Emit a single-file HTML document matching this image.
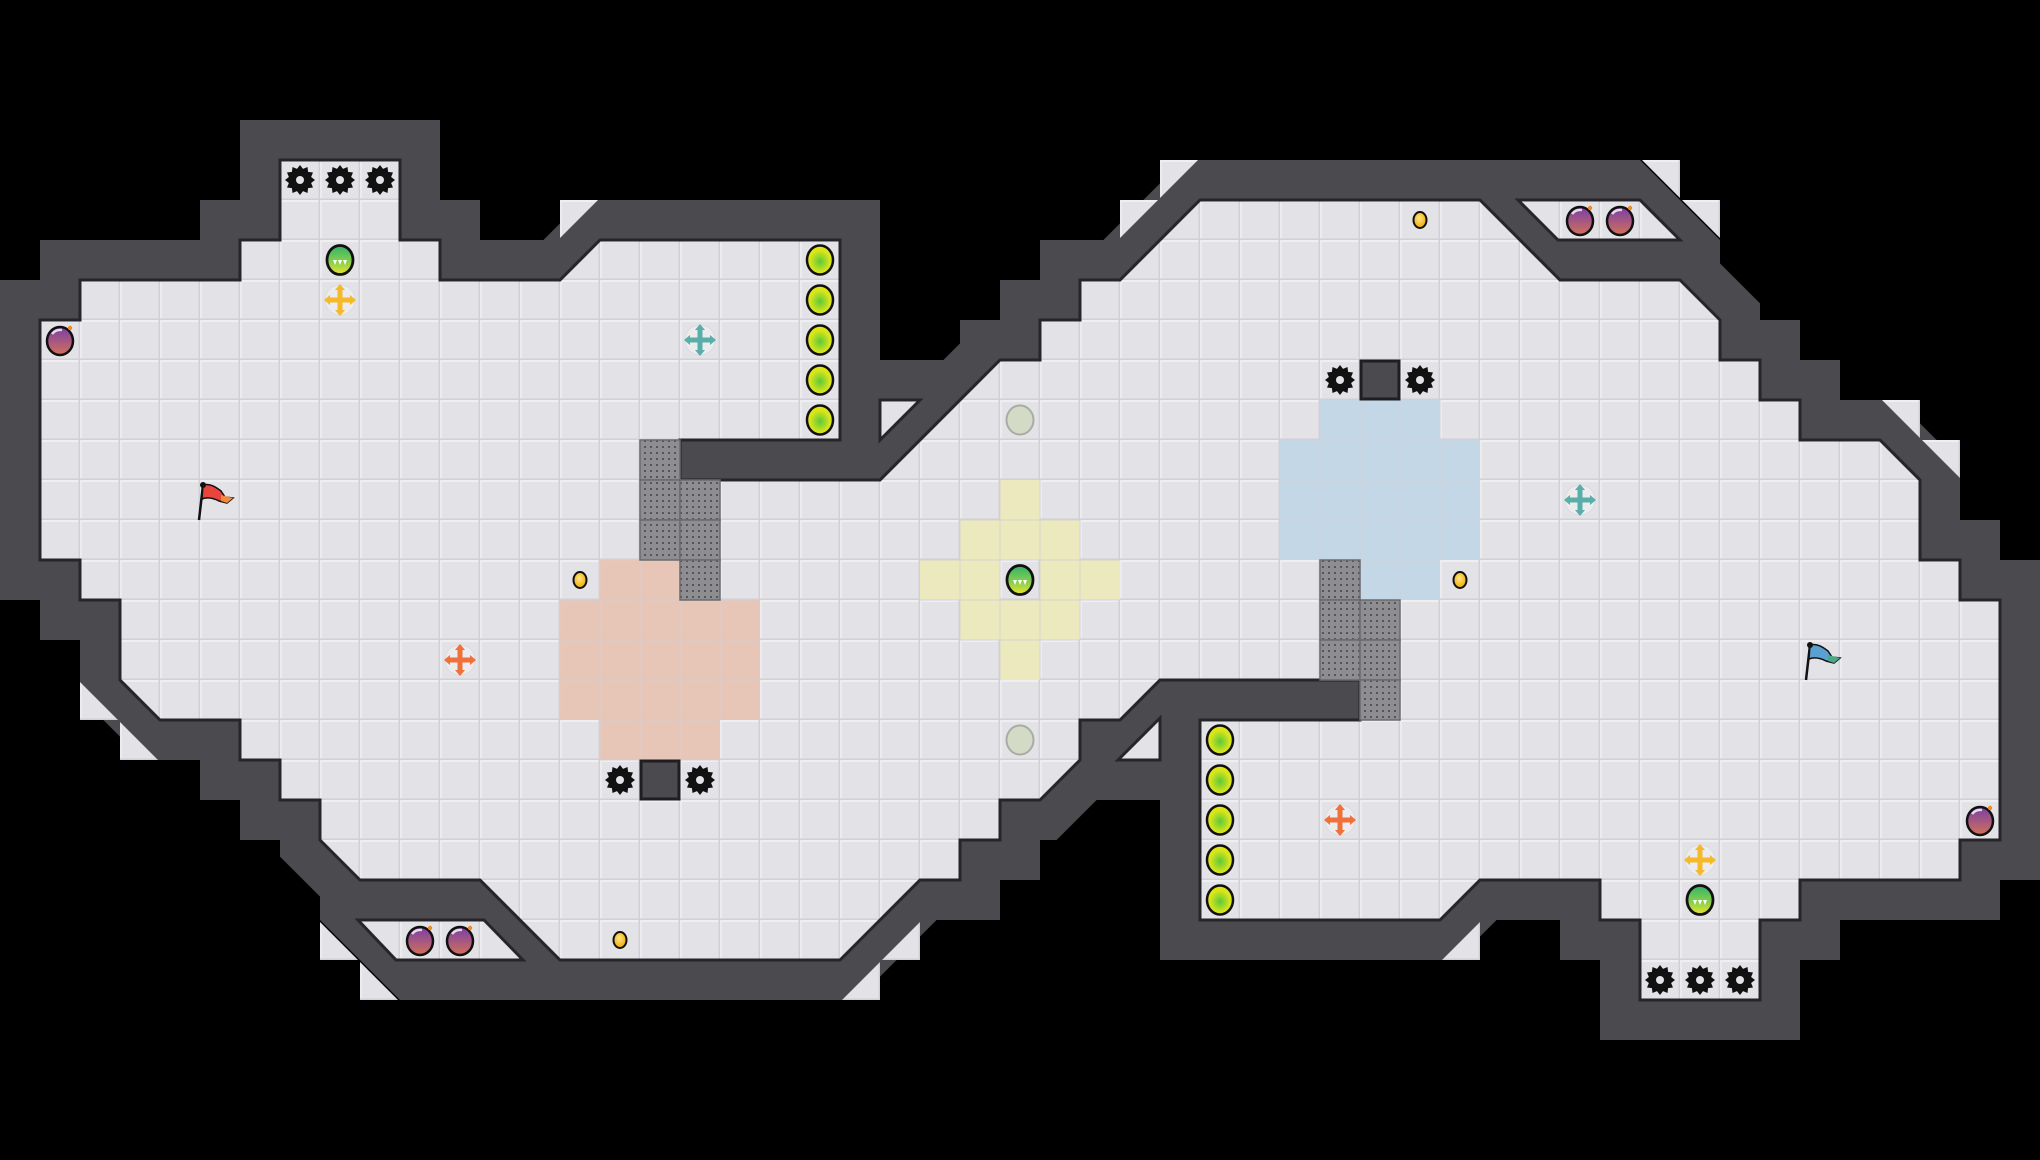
<!DOCTYPE html>
<html><head><meta charset="utf-8"><style>
html,body{margin:0;padding:0;background:#000;}
svg{display:block;}
</style></head><body>
<svg width="2040" height="1160" viewBox="0 0 2040 1160" xmlns="http://www.w3.org/2000/svg">
<defs>
<pattern id="tile" width="40" height="40" patternUnits="userSpaceOnUse">
<rect width="40" height="40" fill="#e3e3e7"/>
<rect x="0" y="0" width="40" height="2" fill="#efeff2"/>
<rect x="0" y="0" width="2" height="40" fill="#ececef"/>
<rect x="38.5" y="0" width="1.5" height="40" fill="#d0d0d5"/>
<rect x="0" y="38.5" width="40" height="1.5" fill="#d0d0d5"/>
</pattern>
<pattern id="grate" width="6" height="6" patternUnits="userSpaceOnUse">
<rect width="6" height="6" fill="#8e8e92"/>
<rect x="2" y="2" width="2" height="2" fill="#55555a"/>
</pattern>
<radialGradient id="yc" cx="50%" cy="55%" r="55%"><stop offset="0" stop-color="#5cc83a"/><stop offset="0.7" stop-color="#d8e61a"/><stop offset="1" stop-color="#e8ea10"/></radialGradient>
<linearGradient id="orb" x1="0" y1="0" x2="0" y2="1"><stop offset="0" stop-color="#2fb36a"/><stop offset="0.6" stop-color="#8fd04a"/><stop offset="1" stop-color="#e8e62a"/></linearGradient>
<linearGradient id="bomb" x1="0" y1="0" x2="0" y2="1"><stop offset="0" stop-color="#7a3fa6"/><stop offset="1" stop-color="#d2705a"/></linearGradient>
<radialGradient id="coin" cx="45%" cy="40%" r="60%"><stop offset="0" stop-color="#ffe680"/><stop offset="1" stop-color="#f0a800"/></radialGradient>
<symbol id="gear" viewBox="-16 -16 32 32">
<polygon fill="#111" points="15,0 11.1,3 13,7.5 8.1,8.1 7.5,13 3,11.1 0,15 -3,11.1 -7.5,13 -8.1,8.1 -13,7.5 -11.1,3 -15,0 -11.1,-3 -13,-7.5 -8.1,-8.1 -7.5,-13 -3,-11.1 0,-15 3,-11.1 7.5,-13 8.1,-8.1 13,-7.5 11.1,-3"/>
<circle r="10.5" fill="#111"/><circle r="4" fill="#e3e3e7"/>
</symbol>
<symbol id="ycirc" viewBox="-20 -20 40 40"><ellipse rx="13" ry="14.5" fill="url(#yc)" stroke="#111" stroke-width="2.5"/></symbol>
<symbol id="gorb" viewBox="-20 -20 40 40"><ellipse rx="13" ry="14.5" fill="url(#orb)" stroke="#111" stroke-width="2.8"/><polygon points="-7,0 -3,0 -5,5" fill="#fff"/><polygon points="-2,0 2,0 0,5" fill="#fff"/><polygon points="3,0 7,0 5,5" fill="#fff"/></symbol>
<symbol id="bombs" viewBox="-20 -20 40 40"><ellipse cx="0" cy="1" rx="13" ry="14" fill="url(#bomb)" stroke="#111" stroke-width="2.5"/><path d="M-8,-6 Q-4,-11 2,-10" stroke="#fff" stroke-width="2.5" fill="none" opacity="0.8"/><circle cx="10" cy="-12" r="2.2" fill="#f08a20"/></symbol>
<symbol id="coins" viewBox="-20 -20 40 40"><ellipse rx="6.5" ry="8" fill="url(#coin)" stroke="#111" stroke-width="2"/></symbol>
<symbol id="gray" viewBox="-20 -20 40 40"><ellipse rx="13.5" ry="14.5" fill="#d3dbc6" stroke="#a8aca4" stroke-width="2"/></symbol>
</defs>

<rect width="2040" height="1160" fill="#000"/>

<g fill="#4a4a4f">
<polygon points="1480,160 1640,160 1720,240 1720,320 1680,280 1560,280 1480,200"/>
<polygon points="320,880 480,880 560,960 560,1000 400,1000 320,920"/>
<polygon points="840,360 1000,360 880,480 840,480"/>
<rect x="960" y="320" width="40" height="40"/>
<rect x="1040" y="720" width="160" height="80"/>
</g>

<path d="M280,160 L400,160 L400,240 L440,240 L440,280 L560,280 L600,240 L840,240 L840,440 L680,440 L680,480 L880,480 L1000,360 L1040,360 L1040,320 L1080,320 L1080,280 L1120,280 L1200,200 L1480,200 L1560,280 L1680,280 L1720,320 L1720,360 L1760,360 L1760,400 L1800,400 L1800,440 L1880,440 L1920,480 L1920,560 L1960,560 L1960,600 L2000,600 L2000,840 L1960,840 L1960,880 L1800,880 L1800,920 L1760,920 L1760,1000 L1640,1000 L1640,920 L1600,920 L1600,880 L1480,880 L1440,920 L1200,920 L1200,720 L1360,720 L1360,680 L1160,680 L1120,720 L1080,720 L1080,760 L1040,800 L1000,800 L1000,840 L960,840 L960,880 L920,880 L880,920 L840,960 L560,960 L480,880 L360,880 L320,840 L320,800 L280,800 L280,760 L240,760 L240,720 L160,720 L120,680 L120,600 L80,600 L80,560 L40,560 L40,320 L80,320 L80,280 L240,280 L240,240 L280,240 Z" fill="none" stroke="#4a4a4f" stroke-width="80" stroke-linejoin="miter" stroke-miterlimit="3"/>

<!-- light triangles outside diagonals -->
<g fill="url(#tile)">
<polygon points="560,200 598,200 560,238"/>
<polygon points="1160,160 1198,160 1160,198"/>
<polygon points="1120,200 1158,200 1120,238"/>
<polygon points="1642,160 1680,160 1680,198"/>
<polygon points="1682,200 1720,200 1720,238"/>
<polygon points="1882,400 1920,400 1920,438"/>
<polygon points="1922,440 1960,440 1960,478"/>
<polygon points="80,682 80,720 118,720"/>
<polygon points="120,722 120,760 158,760"/>
<polygon points="320,922 320,960 358,960"/>
<polygon points="360,962 360,1000 398,1000"/>
<polygon points="1480,922 1480,960 1442,960"/>
<polygon points="880,962 880,1000 842,1000"/>
<polygon points="920,922 920,960 882,960"/>
</g>

<path d="M280,160 L400,160 L400,240 L440,240 L440,280 L560,280 L600,240 L840,240 L840,440 L680,440 L680,480 L880,480 L1000,360 L1040,360 L1040,320 L1080,320 L1080,280 L1120,280 L1200,200 L1480,200 L1560,280 L1680,280 L1720,320 L1720,360 L1760,360 L1760,400 L1800,400 L1800,440 L1880,440 L1920,480 L1920,560 L1960,560 L1960,600 L2000,600 L2000,840 L1960,840 L1960,880 L1800,880 L1800,920 L1760,920 L1760,1000 L1640,1000 L1640,920 L1600,920 L1600,880 L1480,880 L1440,920 L1200,920 L1200,720 L1360,720 L1360,680 L1160,680 L1120,720 L1080,720 L1080,760 L1040,800 L1000,800 L1000,840 L960,840 L960,880 L920,880 L880,920 L840,960 L560,960 L480,880 L360,880 L320,840 L320,800 L280,800 L280,760 L240,760 L240,720 L160,720 L120,680 L120,600 L80,600 L80,560 L40,560 L40,320 L80,320 L80,280 L240,280 L240,240 L280,240 Z" fill="url(#tile)" stroke="#26262a" stroke-width="3"/>

<polygon points="1518,200 1640,200 1680,240 1558,240" fill="url(#tile)" stroke="#26262a" stroke-width="3"/>
<polygon points="358,920 484,920 523,960 396,960" fill="url(#tile)" stroke="#26262a" stroke-width="3"/>
<polygon points="880,400 920,400 880,440" fill="url(#tile)" stroke="#26262a" stroke-width="3"/>
<polygon points="1160,718 1160,760 1118,760" fill="url(#tile)" stroke="#26262a" stroke-width="3"/>

<g fill="#e8c5b6" opacity="0.95">
<rect x="600" y="560" width="80" height="40"/>
<rect x="560" y="600" width="200" height="120"/>
<rect x="600" y="720" width="120" height="40"/>
</g>
<g fill="#ebe9bd">
<rect x="1000" y="480" width="40" height="40"/>
<rect x="960" y="520" width="120" height="40"/>
<rect x="920" y="560" width="80" height="40"/>
<rect x="1040" y="560" width="80" height="40"/>
<rect x="960" y="600" width="120" height="40"/>
<rect x="1000" y="640" width="40" height="40"/>
</g>
<g fill="#c3d7e6">
<rect x="1320" y="400" width="120" height="40"/>
<rect x="1280" y="440" width="200" height="120"/>
<rect x="1360" y="560" width="80" height="40"/>
</g>
<g stroke="#d0d0d5" stroke-width="1.2" opacity="0.6">
<path d="M560,600 H760 M560,640 H760 M560,680 H760 M600,720 H720 M600,760 H720 M600,600 V760 M640,560 V760 M680,560 V760 M720,600 V720"/>
<path d="M960,520 H1080 M920,560 H1120 M920,600 H1120 M960,640 H1080 M1000,480 V680 M1040,480 V680 M960,520 V640 M1080,520 V640"/>
<path d="M1280,440 H1480 M1280,480 H1480 M1280,520 H1480 M1360,560 H1440 M1320,400 V560 M1360,400 V600 M1400,400 V600 M1440,400 V560"/>
</g>

<g fill="url(#grate)" stroke="#6a6a6e" stroke-width="1.5">
<rect x="640" y="440" width="40" height="40"/>
<rect x="640" y="480" width="40" height="40"/><rect x="680" y="480" width="40" height="40"/>
<rect x="640" y="520" width="40" height="40"/><rect x="680" y="520" width="40" height="40"/>
<rect x="680" y="560" width="40" height="40"/>
<rect x="1320" y="560" width="40" height="40"/>
<rect x="1320" y="600" width="40" height="40"/><rect x="1360" y="600" width="40" height="40"/>
<rect x="1320" y="640" width="40" height="40"/><rect x="1360" y="640" width="40" height="40"/>
<rect x="1360" y="680" width="40" height="40"/>
</g>

<rect x="641" y="761" width="38" height="38" fill="#4a4a4f" stroke="#1e1e22" stroke-width="3"/>
<rect x="1361" y="361" width="38" height="38" fill="#4a4a4f" stroke="#1e1e22" stroke-width="3"/>

<g>
<use href="#gear" x="284" y="164" width="32" height="32"/>
<use href="#gear" x="324" y="164" width="32" height="32"/>
<use href="#gear" x="364" y="164" width="32" height="32"/>
<use href="#gear" x="604" y="764" width="32" height="32"/>
<use href="#gear" x="684" y="764" width="32" height="32"/>
<use href="#gear" x="1324" y="364" width="32" height="32"/>
<use href="#gear" x="1404" y="364" width="32" height="32"/>
<use href="#gear" x="1644" y="964" width="32" height="32"/>
<use href="#gear" x="1684" y="964" width="32" height="32"/>
<use href="#gear" x="1724" y="964" width="32" height="32"/>
</g>

<g>
<use href="#ycirc" x="800" y="240" width="40" height="40"/>
<use href="#ycirc" x="800" y="280" width="40" height="40"/>
<use href="#ycirc" x="800" y="320" width="40" height="40"/>
<use href="#ycirc" x="800" y="360" width="40" height="40"/>
<use href="#ycirc" x="800" y="400" width="40" height="40"/>
<use href="#ycirc" x="1200" y="720" width="40" height="40"/>
<use href="#ycirc" x="1200" y="760" width="40" height="40"/>
<use href="#ycirc" x="1200" y="800" width="40" height="40"/>
<use href="#ycirc" x="1200" y="840" width="40" height="40"/>
<use href="#ycirc" x="1200" y="880" width="40" height="40"/>
</g>

<use href="#gorb" x="320" y="240" width="40" height="40"/>
<use href="#gorb" x="1000" y="560" width="40" height="40"/>
<use href="#gorb" x="1680" y="880" width="40" height="40"/>

<use href="#gray" x="1000" y="400" width="40" height="40"/>
<use href="#gray" x="1000" y="720" width="40" height="40"/>

<use href="#bombs" x="40" y="320" width="40" height="40"/>
<use href="#bombs" x="400" y="920" width="40" height="40"/>
<use href="#bombs" x="440" y="920" width="40" height="40"/>
<use href="#bombs" x="1560" y="200" width="40" height="40"/>
<use href="#bombs" x="1600" y="200" width="40" height="40"/>
<use href="#bombs" x="1960" y="800" width="40" height="40"/>

<use href="#coins" x="560" y="560" width="40" height="40"/>
<use href="#coins" x="600" y="920" width="40" height="40"/>
<use href="#coins" x="1400" y="200" width="40" height="40"/>
<use href="#coins" x="1440" y="560" width="40" height="40"/>

<g>
<g transform="translate(340,300)"><circle r="15" fill="#ececef" stroke="#dcdce0"/><path d="M-13,0 H13 M0,-13 V13" stroke="#f5b92a" stroke-width="5"/><path d="M-16,0 L-10,-5 L-10,5Z M16,0 L10,-5 L10,5Z M0,-16 L-5,-10 L5,-10Z M0,16 L-5,10 L5,10Z" fill="#f5b92a"/></g>
<g transform="translate(700,340)"><circle r="15" fill="#ececef" stroke="#dcdce0"/><path d="M-13,0 H13 M0,-13 V13" stroke="#5aaeaa" stroke-width="5"/><path d="M-16,0 L-10,-5 L-10,5Z M16,0 L10,-5 L10,5Z M0,-16 L-5,-10 L5,-10Z M0,16 L-5,10 L5,10Z" fill="#5aaeaa"/></g>
<g transform="translate(460,660)"><circle r="15" fill="#ececef" stroke="#dcdce0"/><path d="M-13,0 H13 M0,-13 V13" stroke="#f0703a" stroke-width="5"/><path d="M-16,0 L-10,-5 L-10,5Z M16,0 L10,-5 L10,5Z M0,-16 L-5,-10 L5,-10Z M0,16 L-5,10 L5,10Z" fill="#f0703a"/></g>
<g transform="translate(1580,500)"><circle r="15" fill="#ececef" stroke="#dcdce0"/><path d="M-13,0 H13 M0,-13 V13" stroke="#5aaeaa" stroke-width="5"/><path d="M-16,0 L-10,-5 L-10,5Z M16,0 L10,-5 L10,5Z M0,-16 L-5,-10 L5,-10Z M0,16 L-5,10 L5,10Z" fill="#5aaeaa"/></g>
<g transform="translate(1340,820)"><circle r="15" fill="#ececef" stroke="#dcdce0"/><path d="M-13,0 H13 M0,-13 V13" stroke="#f0703a" stroke-width="5"/><path d="M-16,0 L-10,-5 L-10,5Z M16,0 L10,-5 L10,5Z M0,-16 L-5,-10 L5,-10Z M0,16 L-5,10 L5,10Z" fill="#f0703a"/></g>
<g transform="translate(1700,860)"><circle r="15" fill="#ececef" stroke="#dcdce0"/><path d="M-13,0 H13 M0,-13 V13" stroke="#f5b92a" stroke-width="5"/><path d="M-16,0 L-10,-5 L-10,5Z M16,0 L10,-5 L10,5Z M0,-16 L-5,-10 L5,-10Z M0,16 L-5,10 L5,10Z" fill="#f5b92a"/></g>
</g>

<g transform="translate(203,485)">
<path d="M0,0 L-4,35" stroke="#111" stroke-width="2.5"/>
<path d="M0,0 C8,-2 14,3 18,6 L22,12 L30,13 L24,18 L16,16 C10,13 4,12 -1,14 Z" fill="#e8463c" stroke="#111" stroke-width="1.5"/>
<path d="M18,10 L30,13 L24,18 L18,16Z" fill="#f08a3a"/>
<circle cx="0" cy="0" r="3" fill="#111"/>
</g>
<g transform="translate(1810,645)">
<path d="M0,0 L-4,35" stroke="#111" stroke-width="2.5"/>
<path d="M0,0 C8,-2 14,3 18,6 L22,12 L30,13 L24,18 L16,16 C10,13 4,12 -1,14 Z" fill="#5aa0d0" stroke="#111" stroke-width="1.5"/>
<path d="M18,10 L30,13 L24,18 L18,16Z" fill="#4aa888"/>
<circle cx="0" cy="0" r="3" fill="#111"/>
</g>
</svg>
</body></html>
